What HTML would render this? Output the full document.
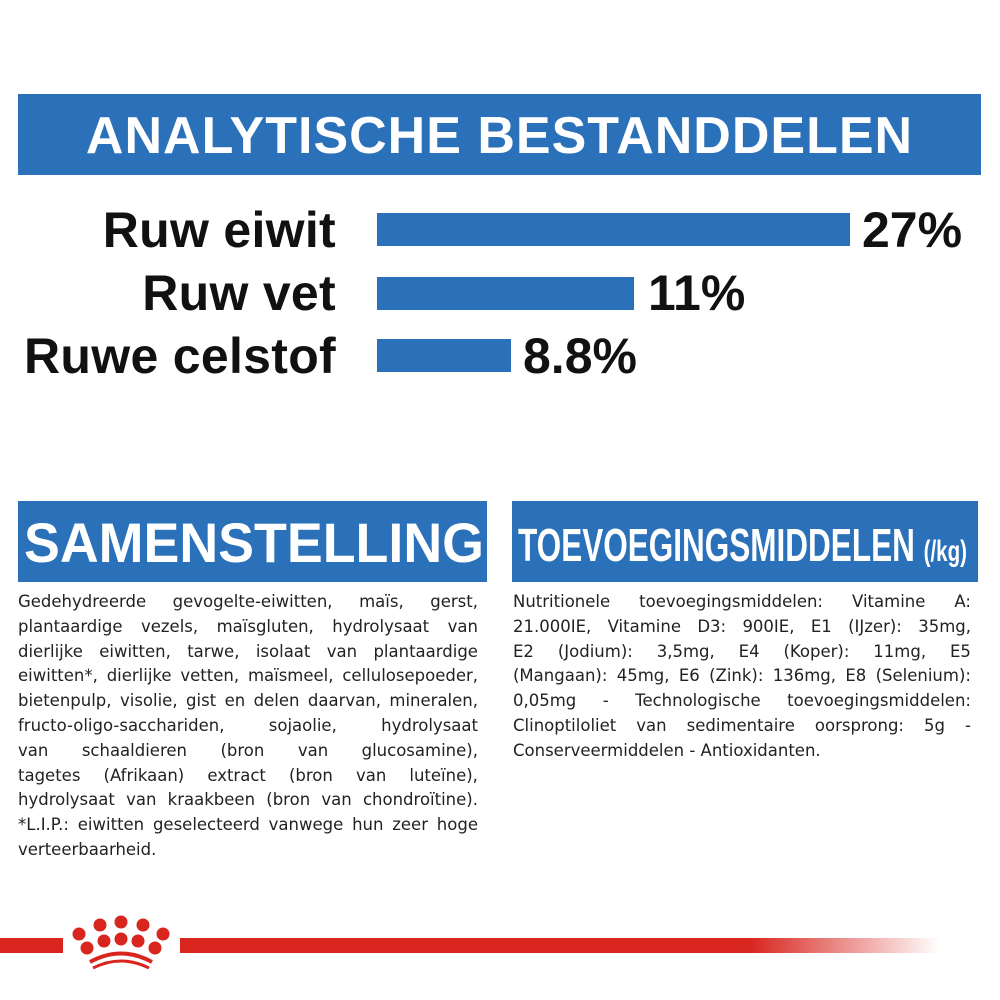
<!DOCTYPE html><html><head><style>
body{margin:0;width:1000px;height:1000px;background:#fff;position:relative;overflow:hidden;font-family:"Liberation Sans",sans-serif}
.b{position:absolute;background:#2a71ba}
.h{position:absolute;color:#fff;font-weight:bold;white-space:nowrap}
.l{position:absolute;font-weight:bold;color:#111;font-size:50px;white-space:nowrap}
.t{position:absolute;font-family:"DejaVu Sans",sans-serif;font-size:16.5px;line-height:24.8px;color:#222}
.t div{white-space:nowrap;display:flex;justify-content:space-between}
.t div.e{justify-content:flex-start}
</style></head><body>
<div class="b" style="left:18px;top:94px;width:963px;height:81px"></div>
<div class="h" style="left:18px;width:963px;top:106px;font-size:52px;text-align:center;letter-spacing:1px">ANALYTISCHE BESTANDDELEN</div>
<div class="l" style="right:664px;top:201px;letter-spacing:0.3px">Ruw eiwit</div>
<div class="l" style="right:664px;top:264px;letter-spacing:0.3px">Ruw vet</div>
<div class="l" style="right:664px;top:327px;letter-spacing:0.3px">Ruwe celstof</div>
<div class="b" style="left:377px;top:213px;width:473px;height:33px"></div>
<div class="b" style="left:377px;top:277px;width:257px;height:33px"></div>
<div class="b" style="left:377px;top:339px;width:134px;height:33px"></div>
<div class="l" style="left:862px;top:201px">27%</div>
<div class="l" style="left:648px;top:264px">11%</div>
<div class="l" style="left:523px;top:327px">8.8%</div>
<div class="b" style="left:18px;top:501px;width:469px;height:81px"></div>
<div class="h" style="left:24px;top:510px;font-size:56px;transform:scaleX(0.96);transform-origin:left">SAMENSTELLING</div>
<div class="b" style="left:512px;top:501px;width:466px;height:81px"></div>
<div class="h" style="left:518px;top:518px;font-size:46px;transform:scaleX(0.685);transform-origin:left">TOEVOEGINGSMIDDELEN <span style="font-size:30px">(/kg)</span></div>
<div class="t" style="left:18px;top:590px;width:460px">
<div><span>Gedehydreerde</span><span>gevogelte-eiwitten,</span><span>maïs,</span><span>gerst,</span></div>
<div><span>plantaardige</span><span>vezels,</span><span>maïsgluten,</span><span>hydrolysaat</span><span>van</span></div>
<div><span>dierlijke</span><span>eiwitten,</span><span>tarwe,</span><span>isolaat</span><span>van</span><span>plantaardige</span></div>
<div><span>eiwitten*,</span><span>dierlijke</span><span>vetten,</span><span>maïsmeel,</span><span>cellulosepoeder,</span></div>
<div><span>bietenpulp,</span><span>visolie,</span><span>gist</span><span>en</span><span>delen</span><span>daarvan,</span><span>mineralen,</span></div>
<div><span>fructo-oligo-sacchariden,</span><span>sojaolie,</span><span>hydrolysaat</span></div>
<div><span>van</span><span>schaaldieren</span><span>(bron</span><span>van</span><span>glucosamine),</span></div>
<div><span>tagetes</span><span>(Afrikaan)</span><span>extract</span><span>(bron</span><span>van</span><span>luteïne),</span></div>
<div><span>hydrolysaat</span><span>van</span><span>kraakbeen</span><span>(bron</span><span>van</span><span>chondroïtine).</span></div>
<div><span>*L.I.P.:</span><span>eiwitten</span><span>geselecteerd</span><span>vanwege</span><span>hun</span><span>zeer</span><span>hoge</span></div>
<div class="e">verteerbaarheid.</div>
</div>
<div class="t" style="left:513px;top:590px;width:458px">
<div><span>Nutritionele</span><span>toevoegingsmiddelen:</span><span>Vitamine</span><span>A:</span></div>
<div><span>21.000IE,</span><span>Vitamine</span><span>D3:</span><span>900IE,</span><span>E1</span><span>(IJzer):</span><span>35mg,</span></div>
<div><span>E2</span><span>(Jodium):</span><span>3,5mg,</span><span>E4</span><span>(Koper):</span><span>11mg,</span><span>E5</span></div>
<div><span>(Mangaan):</span><span>45mg,</span><span>E6</span><span>(Zink):</span><span>136mg,</span><span>E8</span><span>(Selenium):</span></div>
<div><span>0,05mg</span><span>-</span><span>Technologische</span><span>toevoegingsmiddelen:</span></div>
<div><span>Clinoptiloliet</span><span>van</span><span>sedimentaire</span><span>oorsprong:</span><span>5g</span><span>-</span></div>
<div class="e">Conserveermiddelen - Antioxidanten.</div>
</div>
<div style="position:absolute;left:0;top:938px;width:63px;height:15px;background:#d8261f"></div>
<div style="position:absolute;left:180px;top:938px;width:760px;height:15px;background:linear-gradient(90deg,#d8261f 75%,rgba(216,38,31,0))"></div>
<svg style="position:absolute;left:0;top:900px" width="300" height="100">
<g fill="#d8261f">
<circle cx="79" cy="34" r="6.5"/><circle cx="100" cy="25" r="6.5"/><circle cx="121" cy="22" r="6.5"/><circle cx="143" cy="25" r="6.5"/><circle cx="163" cy="34" r="6.5"/>
<circle cx="87" cy="48" r="6.5"/><circle cx="104" cy="41" r="6.5"/><circle cx="121" cy="39" r="6.5"/><circle cx="138" cy="41" r="6.5"/><circle cx="155" cy="48" r="6.5"/>
</g>
<path d="M90 62 Q121 45 152 62" stroke="#d8261f" stroke-width="4" fill="none"/>
<path d="M93 68 Q121 54 149 68" stroke="#d8261f" stroke-width="3" fill="none"/>
</svg>
</body></html>
